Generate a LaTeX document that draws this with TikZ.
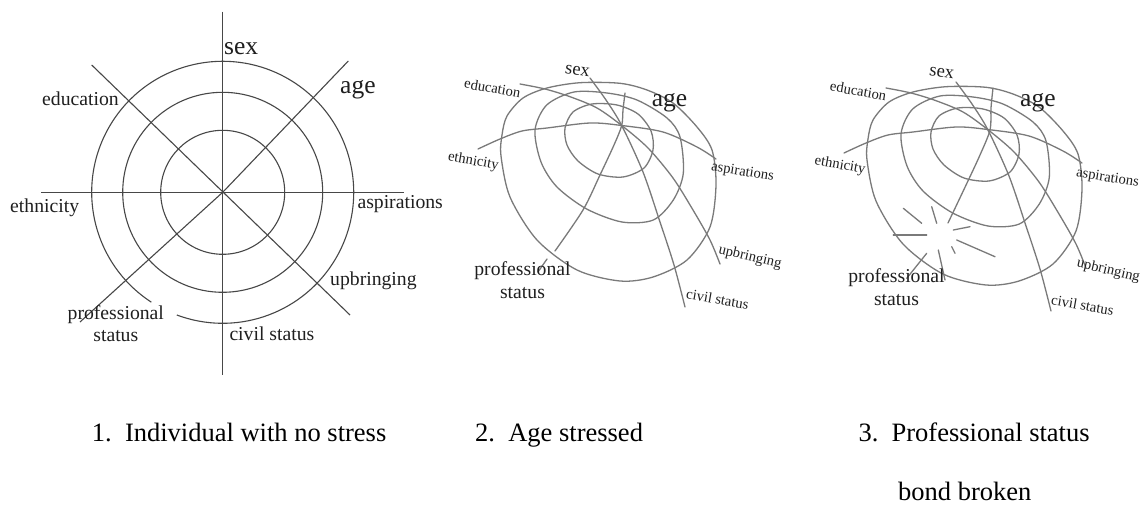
\documentclass[tikz,border=0pt]{standalone}
\usepackage{fontspec}
\setmainfont{Liberation Serif}

% tilted web of bonds (rings and three of the axes), drawn in pixel units
\newcommand{\tiltweb}{%
  \draw[sketch] plot[smooth cycle] coordinates {(565,128) (573,112) (592,104) (617,105) (638,114) (651,131) (653,150) (644,168) (623,177) (598,174) (578,161) (567,145)};
  \draw[sketch] plot[smooth cycle] coordinates {(535,130) (546.7,105) (574,92) (607,93) (637,100) (667,118) (680,137) (683.3,173.3) (673.3,200) (653.3,220) (622,222) (586.7,209) (557,187) (541,162)};
  \draw[sketch] plot[smooth cycle] coordinates {(501,156) (502,135) (507,116) (523,98) (547,88) (580,82.7) (620,83.3) (647,90) (673,103) (697,127) (712,150) (716,185) (710,227) (687,260) (653,277) (620,281) (577,270) (537,240) (510,197)};
  % sex -- civil status
  \draw[sketch] plot[smooth] coordinates {(590,78) (606,100) (621.7,125.5) (643,172) (660,222) (674,265) (685,307)};
  % education -- upbringing
  \draw[sketch] plot[smooth] coordinates {(520,84) (545,89) (570,96.7) (597,108) (621.7,125.5) (648,148) (673,178) (693,210) (710,240) (720,264)};
  % ethnicity -- aspirations
  \draw[sketch] plot[smooth] coordinates {(478,149) (500,139) (522,131) (547,128) (590,123) (621.7,125.5) (663,132) (697,147) (716,159)};
}

\begin{document}
\begin{tikzpicture}[
  x=1pt, y=-1pt,
  ring/.style={draw=black!72, line width=1.1pt},
  sketch/.style={draw=black!52, line width=1.3pt, line cap=round},
  lbl/.style={inner sep=0pt, text=black!88, font=\fontsize{19.7}{22.5}\selectfont},
  biglbl/.style={inner sep=0pt, text=black!88, anchor=base west, font=\fontsize{25.5}{28}\selectfont},
  sklbl/.style={inner sep=0pt, text=black!88, font=\fontsize{14.6}{17}\selectfont},
  capt/.style={inner sep=0pt, anchor=base west, font=\fontsize{26.5}{30}\selectfont}
]
\fill[white] (0,0) rectangle (1141,508);
\useasboundingbox (0,0) rectangle (1141,508);

% 1. no stress
\coordinate (c1) at (222.7,192.3);
\coordinate (sexend) at (222.7,11.7);
\coordinate (civend) at (222.7,375);
\coordinate (ethend) at (41,192.3);
\coordinate (aspend) at (404.3,192.3);
\coordinate (ageend) at (348.3,61);
\coordinate (proend) at (80,322);
\coordinate (eduend) at (91.7,65);
\coordinate (upbend) at (350,315);
\foreach \r in {62,100}
  \draw[ring] (c1) circle[radius=\r];
\draw[ring] (c1) ++(123:131) arc[start angle=123, end angle=470.5, radius=131];
\draw[ring] (sexend) -- (civend);
\draw[ring] (ethend) -- (aspend);
\draw[ring] (ageend) -- (c1) -- (proend);
\draw[ring] (eduend) -- (upbend);

\node[biglbl] (sex1) at (224,55) {sex};
\node[biglbl] (age1) at (340,94) {age};
\node[lbl, anchor=base west] (edu1) at (42,105.5) {education};
\node[lbl, anchor=base west] (eth1) at (10,212) {ethnicity};
\node[lbl, anchor=base west] (asp1) at (357.3,208) {aspirations};
\node[lbl, anchor=base west] (upb1) at (330,285.7) {upbringing};
\node[lbl, anchor=base west] (civ1) at (229.3,340) {civil status};
\node[lbl, anchor=base, align=center] (pro1) at (115.8,341.7) {professional\\status};

% 2. age stressed
\tiltweb
\draw[sketch] plot[smooth] coordinates {(625,93) (623,110) (621.7,125.5) (614,145) (600,175) (583,210) (555,251)};
\draw[sketch] (547,259) -- (538,272);

\node[sklbl, rotate=-8, font=\fontsize{18.5}{20}\selectfont] (sex2) at (577.5,71) {sex};
\node[biglbl] (age2) at (651.7,106.7) {age};
\node[sklbl, rotate=-10] (edu2) at (492.5,88) {education};
\node[sklbl, rotate=-10] (eth2) at (473.3,161.7) {ethnicity};
\node[sklbl, rotate=-9] (asp2) at (742.5,172.5) {aspirations};
\node[sklbl, rotate=-13] (upb2) at (750,257.5) {upbringing};
\node[sklbl, rotate=-10] (civ2) at (717.5,299) {civil status};
\node[lbl, anchor=base, align=center] (pro2) at (522.5,298.3) {professional\\status};

% 3. professional status bond broken
\begin{scope}[shift={(366,4)}]
  \tiltweb
\end{scope}
\draw[sketch] plot[smooth] coordinates {(993,88) (991,108) (990,130) (980,155) (967,183) (948,223)};
\draw[sketch] (926.7,253.3) -- (906.7,278.3);
\draw[sketch] (903.3,208.3) -- (921.7,223.3);
\draw[sketch] (931.7,206.7) -- (936.7,223.3);
\draw[sketch] (893.3,235) -- (926.7,235);
\draw[sketch] (953.3,230) -- (970,226.7);
\draw[sketch] (956.7,240) -- (995,256.7);
\draw[sketch] (951.7,246.7) -- (955,253.3);
\draw[sketch] (938.3,250) -- (945,280);

\node[sklbl, rotate=-8, font=\fontsize{18.5}{20}\selectfont] (sex3) at (941.7,73.3) {sex};
\node[biglbl] (age3) at (1020,106.7) {age};
\node[sklbl, rotate=-10] (edu3) at (858.3,90.8) {education};
\node[sklbl, rotate=-10] (eth3) at (840,165.8) {ethnicity};
\node[sklbl, rotate=-9] (asp3) at (1107.5,178.3) {aspirations};
\node[sklbl, rotate=-13] (upb3) at (1108.3,270.8) {upbringing};
\node[sklbl, rotate=-10] (civ3) at (1082.5,305) {civil status};
\node[lbl, anchor=base, align=center] (pro3) at (896.5,305) {professional\\status};

% captions
\node[capt] (cap1) at (91.7,441.7) {1.\hspace{.5em}Individual with no stress};
\node[capt] (cap2) at (475,441.7) {2.\hspace{.5em}Age stressed};
\node[capt] (cap3) at (858.3,441.7) {3.\hspace{.5em}Professional status};
\node[capt] (cap3b) at (898,500) {bond broken};
\end{tikzpicture}
\end{document}
